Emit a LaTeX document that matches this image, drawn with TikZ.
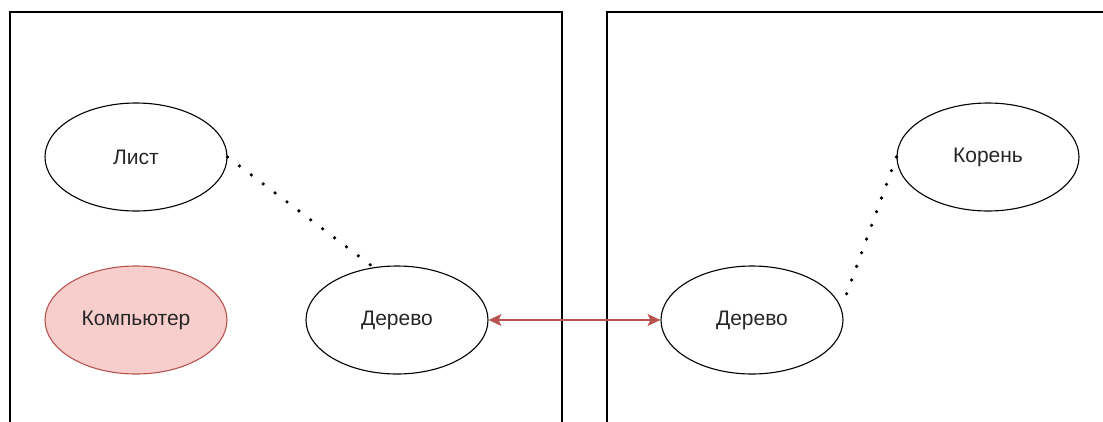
\documentclass[tikz,border=0pt]{standalone}
\usepackage{fontspec}
\setmainfont{Liberation Sans}
\usetikzlibrary{shapes.geometric,arrows.meta,calc}
\definecolor{redline}{HTML}{B85450}
\definecolor{redfill}{HTML}{F8CECC}
\tikzset{
  frame/.style={draw=black, line width=1.4pt},
  oval/.style={ellipse, draw=black, line width=1.1pt, minimum width=182pt,
    minimum height=108pt, inner sep=0pt, font=\fontsize{21}{23}\selectfont,
    text=black!85},
  redoval/.style={oval, draw=redline, fill=redfill},
  dots/.style={draw=black, line width=3.6pt, line cap=round,
    dash pattern=on 0pt off 14.9pt},
  link/.style={draw=redline, line width=1.5pt,
    {Stealth[length=13pt,width=12pt,inset=3pt]}-{Stealth[length=13pt,width=12pt,inset=3pt]}}
}
\begin{document}
\begin{tikzpicture}[x=1pt,y=-1pt]
  \useasboundingbox (0,0) rectangle (1103,421);
  \begin{scope}
    \clip (0,0) rectangle (1103,421);
    % two frames, open at the bottom and right
    \draw[frame] (10,440) -- (10,12) -- (562,12) -- (562,440);
    \draw[frame] (607,440) -- (607,12) -- (1120,12);
  \end{scope}

  \node[oval]    (list) at (136,157) {Лист};
  \node[redoval] (comp) at (136,320) {Компьютер};
  \node[oval]    (tree1) at (397,320) {Дерево};
  \node[oval]    (tree2) at (752,320) {Дерево};
  \node[oval]    (root) at (988,157) {Корень};

  \coordinate (tree2end) at ($(tree2.east)+(3,-26)$);
  \draw[dots] (list.east) -- (tree1.114);
  \draw[dots, dash pattern=on 0pt off 14.55pt] (root.west) -- (tree2end);
  \draw[link] (tree1.east) -- (tree2.west);
\end{tikzpicture}
\end{document}
